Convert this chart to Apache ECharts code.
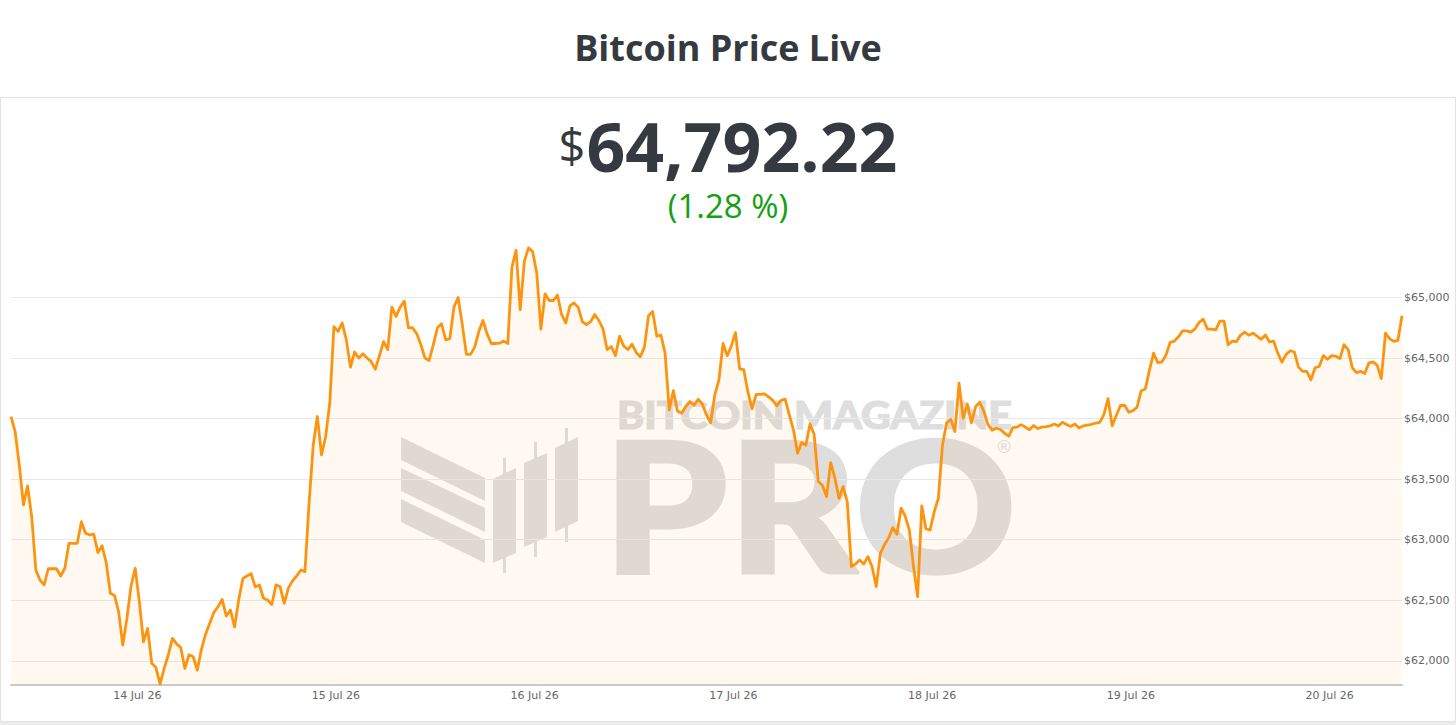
<!DOCTYPE html>
<html>
<head>
<meta charset="utf-8">
<script src="https://cdn.jsdelivr.net/npm/echarts@6/dist/echarts.min.js"></script>
<style>
html,body{margin:0;padding:0;background:#ffffff;}
#chart{width:1456px;height:725px;}
</style>
</head>
<body>
<div id="chart"></div>
<script>
// ---- data ----
const chartTitle = 'Bitcoin Price Live';
const currencySymbol = '$';
const lastPriceText = '64,792.22';
const changeText = '(1.28 %)';
const startTime = [2026, 6, 13, 8, 45]; // first sample (local time)
const stepMinutes = 30;
const xTickLabels = ['14 Jul 26', '15 Jul 26', '16 Jul 26', '17 Jul 26', '18 Jul 26', '19 Jul 26', '20 Jul 26'];
const yTickValues = [62000, 62500, 63000, 63500, 64000, 64500, 65000];
const yRange = [61800, 65450];
const watermarkTop = 'BITCOIN MAGAZINE';
const watermarkMain = 'PRO';
const prices = [
64017,63893,63620,63287,63444,63190,62750,62667,62626,62760,62760,62760,62700,62764,62970,62970,62970,63149,63053,63040,
63045,62893,62950,62810,62557,62540,62405,62129,62350,62620,62764,62488,62157,62268,61979,61945,61808,61937,62050,62185,
62140,62110,61937,62050,62033,61923,62095,62220,62309,62400,62446,62507,62370,62419,62279,62502,62680,62700,62720,62610,
62626,62516,62502,62465,62626,62612,62474,62600,62660,62700,62750,62736,63300,63780,64017,63700,63850,64130,64760,64720,
64790,64650,64425,64550,64500,64535,64500,64470,64408,64520,64636,64570,64920,64843,64920,64970,64750,64750,64700,64612,
64500,64480,64609,64750,64783,64650,64660,64920,65000,64780,64530,64530,64590,64719,64810,64700,64620,64620,64623,64640,
64620,65250,65390,64898,65300,65410,65380,65200,64739,65030,64975,64975,65020,64860,64790,64930,64955,64920,64800,64775,
64800,64860,64810,64740,64570,64595,64520,64680,64600,64570,64615,64546,64510,64590,64850,64884,64680,64690,64540,64072,
64230,64060,64045,64100,64141,64110,64160,64120,64030,63965,64196,64320,64620,64520,64600,64710,64410,64405,64220,64080,
64200,64200,64205,64180,64150,64105,64150,64160,64031,63907,63714,63802,63780,63956,63870,63480,63450,63356,63637,63510,
63342,63438,63314,62777,62800,62832,62800,62860,62777,62612,62888,62960,63015,63100,63045,63260,63195,63080,62780,62529,
63280,63090,63080,63230,63340,63780,63965,63995,63893,64293,64003,64120,63965,64099,64135,64060,63950,63905,63920,63910,
63880,63855,63925,63930,63950,63930,63908,63943,63918,63930,63933,63940,63955,63940,63970,63950,63935,63955,63922,63940,
63947,63953,63963,63968,64035,64165,63940,64028,64108,64110,64052,64065,64095,64230,64245,64400,64540,64462,64468,64526,
64630,64640,64675,64725,64725,64714,64740,64795,64821,64739,64739,64732,64805,64805,64610,64640,64635,64690,64715,64688,
64705,64680,64655,64690,64633,64640,64540,64466,64530,64560,64550,64425,64390,64390,64320,64420,64430,64520,64490,64520,
64515,64495,64610,64570,64420,64380,64390,64372,64460,64468,64442,64330,64706,64660,64637,64645,64849
];

// ---- build series ----
const t0 = new Date(startTime[0], startTime[1], startTime[2], startTime[3], startTime[4]).getTime();
const stepMs = stepMinutes * 60 * 1000;
const seriesData = prices.map((p, i) => [t0 + i * stepMs, p]);
const tEnd = t0 + (prices.length - 1) * stepMs;
const DAY = 24 * 3600 * 1000;

const ink = '#343a40';
const wm = '#dedede';

const chart = echarts.init(document.getElementById('chart'), null, { renderer: 'svg' });
chart.setOption({
  animation: false,
  backgroundColor: '#ffffff',
  title: [
    {
      text: chartTitle, left: 'center', top: 29, padding: 0,
      textStyle: { fontFamily: 'Open Sans', fontWeight: 700, fontSize: 36, color: ink }
    },
    {
      text: '{s|' + currencySymbol + '}{n|' + lastPriceText + '}', left: 'center', top: 108, padding: 0,
      textStyle: {
        rich: {
          s: { fontFamily: 'Open Sans', fontWeight: 400, fontSize: 47, color: ink, verticalAlign: 'middle', lineHeight: 74, padding: [0, 1, 0, 0] },
          n: { fontFamily: 'Open Sans', fontWeight: 700, fontSize: 68, color: ink, verticalAlign: 'middle', lineHeight: 74 }
        }
      }
    },
    {
      text: changeText, left: 'center', top: 189, padding: 0,
      textStyle: { fontFamily: 'Open Sans', fontWeight: 400, fontSize: 33, color: '#12a112' }
    }
  ],
  graphic: {
    elements: [
      { type: 'rect', z: -30, silent: true, shape: { x: 0.5, y: 97.5, width: 1455, height: 624 },
        style: { fill: 'none', stroke: '#e3e3e3', lineWidth: 1 } },
      { type: 'rect', z: -30, silent: true, shape: { x: 0, y: 722, width: 1456, height: 3 },
        style: { fill: '#ececec' } },
      // watermark logo
      { type: 'polygon', z: -10, silent: true, shape: { points: [[401, 437], [485, 478], [485, 501], [401, 460]] }, style: { fill: wm } },
      { type: 'polygon', z: -10, silent: true, shape: { points: [[401, 468], [485, 508], [485, 532], [401, 491]] }, style: { fill: wm } },
      { type: 'polygon', z: -10, silent: true, shape: { points: [[401, 499], [485, 540], [485, 563], [401, 522]] }, style: { fill: wm } },
      { type: 'polygon', z: -10, silent: true, shape: { points: [[493, 479], [516, 468], [516, 553], [493, 563]] }, style: { fill: wm } },
      { type: 'rect', z: -10, silent: true, shape: { x: 503, y: 458, width: 3, height: 115 }, style: { fill: wm } },
      { type: 'polygon', z: -10, silent: true, shape: { points: [[524, 463], [547, 453], [547, 537], [524, 547]] }, style: { fill: wm } },
      { type: 'rect', z: -10, silent: true, shape: { x: 534, y: 442, width: 3, height: 115 }, style: { fill: wm } },
      { type: 'polygon', z: -10, silent: true, shape: { points: [[555, 448], [578, 437], [578, 521], [555, 532]] }, style: { fill: wm } },
      { type: 'rect', z: -10, silent: true, shape: { x: 565, y: 428, width: 3, height: 114 }, style: { fill: wm } },
      { type: 'text', z: -10, silent: true, x: 617, y: 414, scaleX: 1.08,
        style: { text: watermarkTop, fontFamily: 'Lato', fontWeight: 900, fontSize: 38, lineHeight: 30,
                 align: 'left', verticalAlign: 'middle', fill: wm, stroke: wm, lineWidth: 1.2 } },
      { type: 'text', z: -10, silent: true, x: 603, y: 503, scaleX: 1.095,
        style: { text: watermarkMain, fontFamily: 'Lato', fontWeight: 900, fontSize: 182, lineHeight: 132,
                 align: 'left', verticalAlign: 'middle', fill: wm, stroke: wm, lineWidth: 3 } },
      { type: 'text', z: -10, silent: true, x: 1004, y: 446,
        style: { text: '®', fontFamily: 'Lato', fontWeight: 400, fontSize: 17, lineHeight: 14,
                 align: 'center', verticalAlign: 'middle', fill: wm } }
    ]
  },
  grid: { left: 11, right: 54, top: 243, bottom: 40, outerBoundsMode: 'none' },
  xAxis: {
    type: 'time',
    min: t0, max: tEnd,
    minInterval: DAY, maxInterval: DAY,
    axisLine: { show: true, lineStyle: { color: '#cccccc', width: 2 } },
    axisTick: { show: false },
    splitLine: { show: false },
    axisLabel: {
      margin: 5,
      color: '#666666', fontFamily: 'DejaVu Sans', fontSize: 11,
      formatter: function (val) {
        const d = new Date(val);
        const lab = xTickLabels.find(s => s.split(' ')[0] === String(d.getDate()));
        return lab || '';
      }
    }
  },
  yAxis: {
    type: 'value',
    position: 'right',
    min: yRange[0], max: yRange[1],
    splitNumber: 7,
    axisLine: { show: false },
    axisTick: { show: false },
    splitLine: { show: true, showMinLine: false, showMaxLine: false, lineStyle: { color: '#e9e9e9', width: 1 } },
    axisLabel: {
      margin: 2, showMinLabel: false, showMaxLabel: false,
      color: '#666666', fontFamily: 'DejaVu Sans', fontSize: 11,
      formatter: function (v) {
        return yTickValues.indexOf(v) >= 0 ? '$' + v.toLocaleString('en-US') : '';
      }
    }
  },
  series: [{
    type: 'line',
    data: seriesData,
    showSymbol: false,
    symbol: 'none',
    lineStyle: { color: '#fd9410', width: 2.8, join: 'round' },
    areaStyle: { color: 'rgba(247,147,26,0.08)', origin: 'start' }
  }]
});
</script>
</body>
</html>
